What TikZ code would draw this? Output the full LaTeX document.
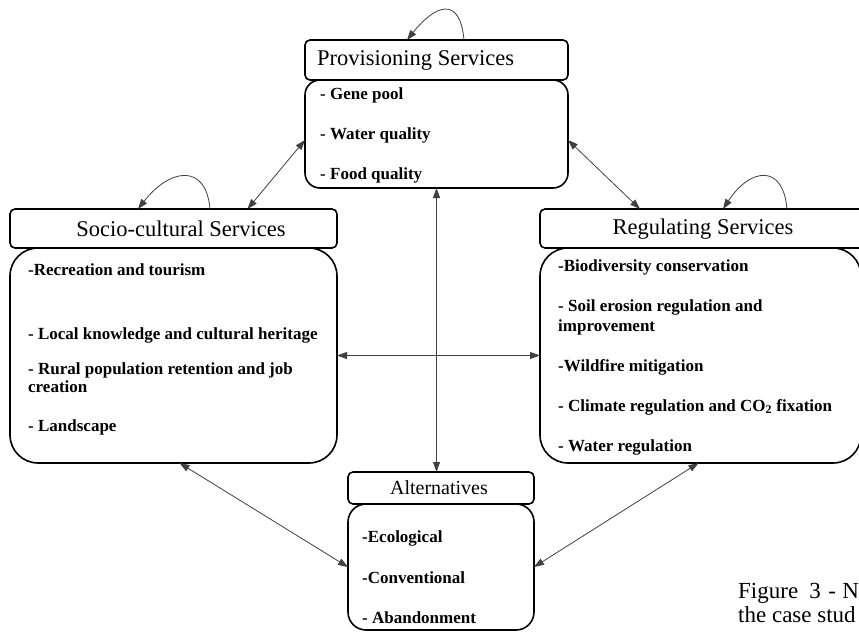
\documentclass[tikz,border=0pt]{standalone}
\usepackage{fontspec}
\setmainfont{Liberation Serif}
\usetikzlibrary{arrows.meta,calc}
\begin{document}
\begin{tikzpicture}[x=1pt,y=-1pt,
  tbox/.style={draw=black, line width=1.6pt, fill=white, rounded corners=5pt, inner sep=0pt, outer sep=0pt},
  bbox/.style={draw=black, line width=1.6pt, fill=white, inner sep=0pt, outer sep=0pt},
  ttl/.style={font=\fontsize{22.5}{26}\selectfont, inner sep=0pt},
  itm/.style={font=\bfseries\fontsize{17}{20}\selectfont, anchor=west, inner sep=0pt},
  conn/.style={draw=black!75, line width=0.8pt},
  tip/.tip={Triangle[length=10pt,width=7pt]},
  biarr/.style={conn, tip-tip},
  loop/.style={conn, -tip}]
\useasboundingbox (0,0) rectangle (859,632);
\clip (0,0) rectangle (859,632);
\fill[white] (0,0) rectangle (859,632);

% boxes
\node[tbox, minimum width=263pt, minimum height=40pt] (provt) at (436.5,60) {};
\node[bbox, rounded corners=15pt, minimum width=263pt, minimum height=108pt] (provb) at (436.5,134) {};
\node[tbox, minimum width=327pt, minimum height=39pt] (soct) at (173.5,228.5) {};
\node[bbox, rounded corners=28pt, minimum width=327pt, minimum height=215pt] (socb) at (173.5,355.5) {};
\node[tbox, minimum width=330pt, minimum height=39pt] (regt) at (705,228.5) {};
\node[bbox, rounded corners=28pt, minimum width=321pt, minimum height=215pt] (regb) at (700.5,355.5) {};
\node[tbox, minimum width=186pt, minimum height=32pt] (altt) at (441,488) {};
\node[bbox, rounded corners=18pt, minimum width=186pt, minimum height=126pt] (altb) at (441,567) {};

% titles
\node[ttl, anchor=west] (provtx) at (317,60) {Provisioning Services};
\node[ttl] (soctx) at (181,229) {Socio-cultural Services};
\node[ttl] (regtx) at (703,229) {Regulating Services};
\node[ttl, font=\fontsize{20}{24}\selectfont] (alttx) at (439,488) {Alternatives};

% provisioning items
\node[itm] (p1) at (320,95) {- Gene pool};
\node[itm] (p2) at (320,135) {- Water quality};
\node[itm] (p3) at (320,175) {- Food quality};

% socio-cultural items
\node[itm] (s1) at (28,270) {-Recreation and tourism};
\node[itm] (s2) at (28,335) {- Local knowledge and cultural heritage};
\node[itm] (s3) at (28,370) {- Rural population retention and job};
\node[itm] (s4) at (28,387) {creation};
\node[itm] (s5) at (28,427) {- Landscape};

% regulating items
\node[itm] (r1) at (558,267) {-Biodiversity conservation};
\node[itm] (r2) at (558,307) {- Soil erosion regulation and};
\node[itm] (r3) at (558,327) {improvement};
\node[itm] (r4) at (558,367) {-Wildfire mitigation};
\node[itm] (r5) at (558,407) {- Climate regulation and CO\textsubscript{2} fixation};
\node[itm] (r6) at (558,447) {- Water regulation};

% alternatives items
\node[itm] (a1) at (362,538) {-Ecological};
\node[itm] (a2) at (362,578) {-Conventional};
\node[itm] (a3) at (362,618) {- Abandonment};

% caption fragment
\node[font=\fontsize{23}{26}\selectfont, anchor=base west, inner sep=0pt] (cap1) at (738,598) {Figure\hspace{11pt}3\hspace{7.5pt}-\hspace{6.5pt}N};
\node[font=\fontsize{23}{26}\selectfont, anchor=base west, inner sep=0pt] (cap2) at (738,622) {the case stud};

% connectors
\draw[biarr] ([yshift=-6pt]provb.west) -- ([xshift=74pt]soct.north);
\draw[biarr] ([yshift=-6pt]provb.east) -- ([xshift=100pt]regt.north west);
\draw[biarr] (provb.south) -- (provb.south |- altt.north);
\draw[biarr] (socb.east) -- (regb.west);
\draw[biarr] ([xshift=6pt]socb.south) -- (altb.west);
\draw[biarr] ([xshift=-2pt]regb.south) -- (altb.east);

% self loops
\draw[loop] ([xshift=27.5pt]provt.north) .. controls +(-4,-45) and +(28,-35) .. ([xshift=-29.5pt]provt.north);
\draw[loop] ([xshift=36.5pt]soct.north) .. controls +(-4,-46) and +(32,-41) .. ([xshift=-35.5pt]soct.north);
\draw[loop] ([xshift=82pt]regt.north) .. controls +(-4,-46) and +(27,-41) .. ([xshift=18pt]regt.north);
\end{tikzpicture}
\end{document}
